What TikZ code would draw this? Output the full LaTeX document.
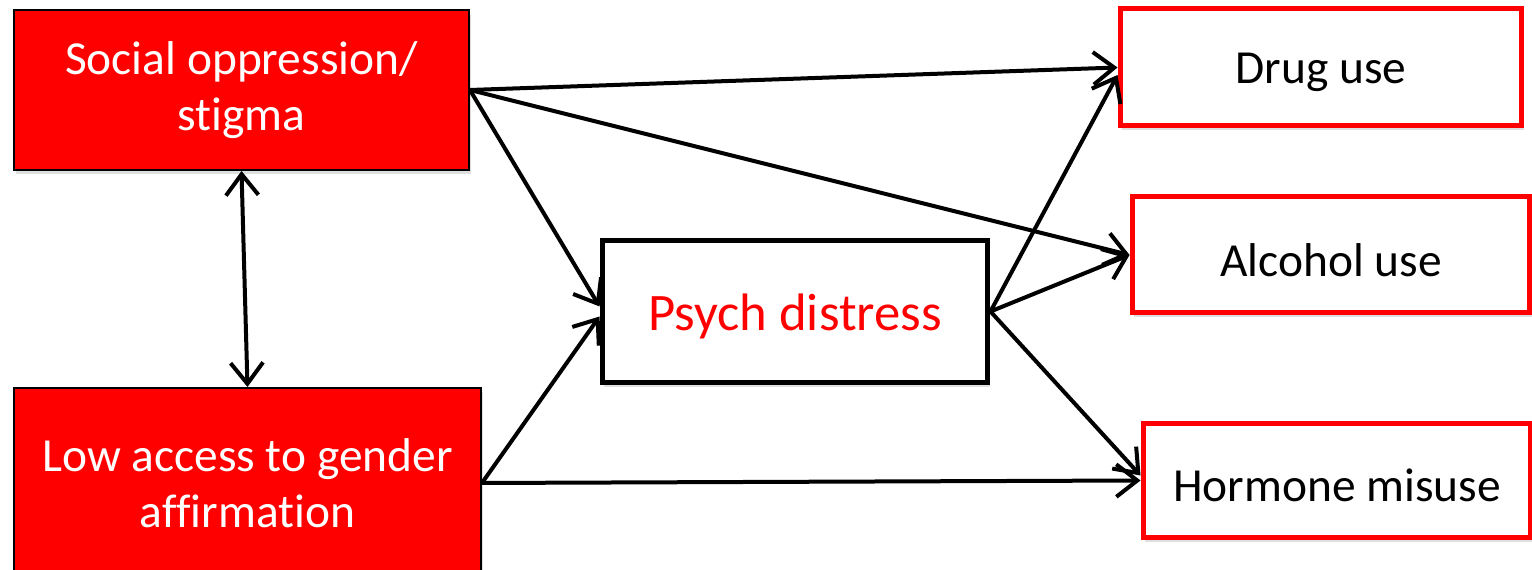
\documentclass[tikz,border=0pt]{standalone}
\usepackage{fontspec}
\setmainfont{Carlito}[Ligatures=NoCommon]
\usetikzlibrary{arrows.meta,shadows,positioning}
% set the text a little lower in the box, keeping its size
\newcommand\dropped[1]{\raisebox{-0.1cm}[\height][\depth]{#1}}

\begin{document}
\begin{tikzpicture}[x=0.02cm,y=0.02cm,font=\fontsize{27}{32}\selectfont,
  shade/.style={drop shadow={shadow xshift=0.04cm,shadow yshift=-0.08cm,opacity=0.25}},
  redbox/.style={draw=black,line width=0.04cm,fill=red,text=white,align=center,inner sep=0,shade},
  outbox/.style={draw=red,line width=0.1cm,fill=white,inner sep=0,shade},
  midbox/.style={draw=black,line width=0.1cm,fill=white,text=red,inner sep=0,shade,font=\fontsize{30}{36}\selectfont},
  link/.style={line width=0.08cm,-{Straight Barb[length=0.42cm,width=0.65cm]}}]
  \useasboundingbox (0,0) rectangle (1532,570);
  \node[redbox,minimum width=9.1cm,minimum height=3.2cm](soc) at (241.5,480) {Social oppression/\\stigma};
  \node[redbox,minimum width=9.34cm,minimum height=3.8cm](low) at (247.5,87) {Low access to gender\\affirmation};
  \node[midbox,minimum width=7.72cm,minimum height=2.86cm](psych) at (795,258.5) {\dropped{Psych distress}};
  \node[outbox,minimum width=8.04cm,minimum height=2.34cm](drug) at (1321,502.5) {\dropped{Drug use}};
  \node[outbox,minimum width=7.96cm,minimum height=2.32cm](alc) at (1331,315) {\dropped{Alcohol use}};
  \node[outbox,minimum width=7.76cm,minimum height=2.3cm](horm) at (1337,89.5) {\dropped{Hormone misuse}};
  \draw[link] (soc.east)--(drug.west);
  \draw[link] (soc.east)--(alc.west);
  \draw[link] (soc.east)--([yshift=0.1cm]psych.west);
  \draw[link] (low.east)--([yshift=-0.1cm]psych.west);
  \draw[link] (low.east)--(horm.west);
  \draw[link] (psych.east)--([yshift=-0.15cm]drug.west);
  \draw[link] (psych.east)--(alc.west);
  \draw[link] (psych.east)--([yshift=0.1cm]horm.west);
  \draw[link,{Straight Barb[length=0.42cm,width=0.65cm]}-{Straight Barb[length=0.42cm,width=0.65cm]}] (soc.south)--(low.north);
\end{tikzpicture}
\end{document}
